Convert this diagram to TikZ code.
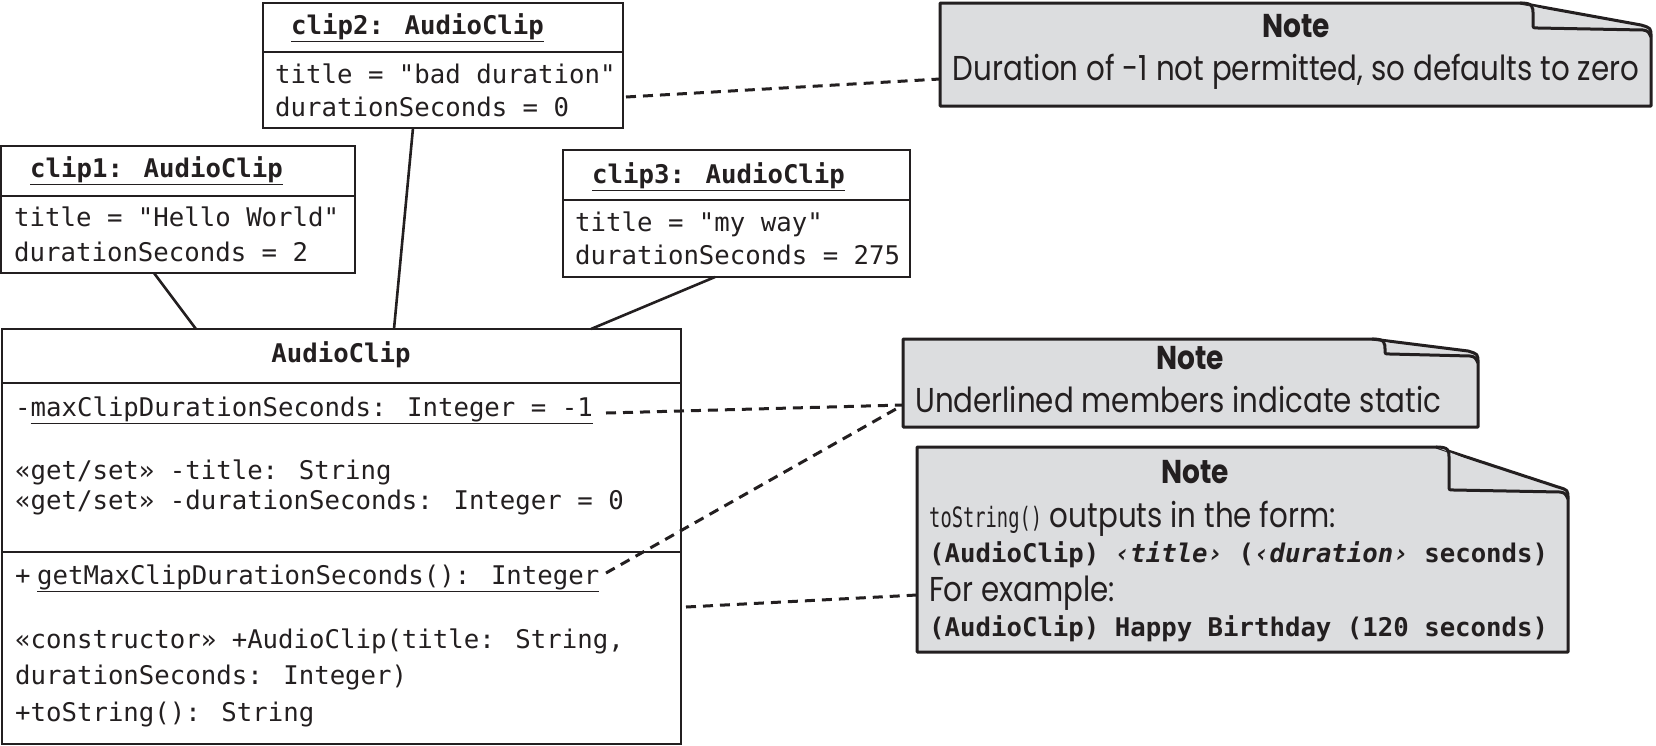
\documentclass[tikz,border=0pt]{standalone}
\usepackage{fontspec}
\setmainfont{Poppins}
\newfontfamily\monof{DejaVu Sans Mono}
\newfontfamily\monon[FakeStretch=0.67]{DejaVu Sans Mono}
\newfontfamily\notef[FakeStretch=0.85]{Poppins}
\definecolor{ink}{RGB}{35,31,32}
\definecolor{notegray}{RGB}{220,221,223}
\newcommand\notepath[6]{%
  \filldraw[notebody] (#1,#2) -- (#5,#2) -- ({#3-10},{#6-4}) .. controls (#3,{#6-1}) .. (#3,{#6+8}) -- (#3,#4) -- (#1,#4) -- cycle;
  \filldraw[notebody] (#5,#2) .. controls ({#5+13},#2) and ({#5+13},{#2+3}) .. ({#5+13},{#2+12}) -- ({#5+13},{#6-5}) .. controls ({#5+13},{#6-1}) .. ({#5+18},{#6-1}) -- ({#3-8},{#6+1}) .. controls ({#3-3},{#6+2}) .. (#3,{#6+8});
}
\begin{document}
\begin{tikzpicture}[x=1pt,y=-1pt,
  umlbox/.style={draw=ink, line width=2.6pt, inner sep=0pt, outer sep=0pt, anchor=north west},
  divider/.style={draw=ink, line width=2.6pt},
  link/.style={draw=ink, line width=2.6pt},
  notelink/.style={draw=ink, line width=3pt, dash pattern=on 10pt off 7pt},
  notebody/.style={draw=ink, fill=notegray, line width=3pt, line join=round},
  notearea/.style={inner sep=0pt, outer sep=0pt, anchor=north west},
  mono/.style={font=\monof\fontsize{25.7}{32}\selectfont, text=ink, inner sep=0pt, anchor=west, text height=19pt, text depth=6pt},
  monob/.style={mono, font=\monof\bfseries\fontsize{25.7}{32}\selectfont},
  notehead/.style={font=\notef\bfseries\fontsize{33}{40}\selectfont, text=ink, inner sep=0pt, text height=24pt, text depth=7pt},
  notetext/.style={font=\notef\fontsize{34.5}{41}\selectfont, text=ink, inner sep=0pt, anchor=west, text height=24pt, text depth=7pt},
]
\useasboundingbox (0,0) rectangle (1656,745);

% ---------- object boxes ----------
\node[umlbox, minimum width=354pt, minimum height=127pt] (clip1) at (1,146) {};
\draw[divider] (1,196) -- (355,196);
\node[umlbox, minimum width=360pt, minimum height=125pt] (clip2) at (263,3) {};
\draw[divider] (263,52) -- (623,52);
\node[umlbox, minimum width=347pt, minimum height=127pt] (clip3) at (563,150) {};
\draw[divider] (563,200) -- (910,200);
\node[umlbox, minimum width=679pt, minimum height=415pt] (cls) at (2,329) {};
\draw[divider] (2,383) -- (681,383);
\draw[divider] (2,552) -- (681,552);

% ---------- object texts ----------
\node[monob] (c1h) at (30,171) {\underline{clip1: AudioClip}};
\node[mono] (c1a) at (14,220) {title = "Hello World"};
\node[mono] (c1b) at (14,255) {durationSeconds = 2};
\node[monob] (c2h) at (291,28) {\underline{clip2: AudioClip}};
\node[mono] (c2a) at (275,77) {title = "bad duration"};
\node[mono] (c2b) at (275,110) {durationSeconds = 0};
\node[monob] (c3h) at (592,177) {\underline{clip3: AudioClip}};
\node[mono] (c3a) at (575,225) {title = "my way"};
\node[mono] (c3b) at (575,258) {durationSeconds = 275};

% ---------- class texts ----------
\node[monob, anchor=center] (clsh) at (341,356) {AudioClip};
\node[mono] (a1) at (15,410) {-\underline{maxClipDurationSeconds: Integer = -1}};
\node[mono] (a2) at (15,473) {«get/set» -title: String};
\node[mono] (a3) at (15,503) {«get/set» -durationSeconds: Integer = 0};
\node[mono] (m1) at (15,578) {\makebox[22pt][l]{+}\underline{getMaxClipDurationSeconds(): Integer}};
\node[mono] (m2) at (15,642) {«constructor» +AudioClip(title: String,};
\node[mono] (m3) at (15,678) {durationSeconds: Integer)};
\node[mono] (m4) at (15,715) {+toString(): String};

% ---------- notes ----------
\notepath{940}{3}{1651}{106}{1520}{29}
\node[notearea, minimum width=711pt, minimum height=103pt] (note1) at (940,3) {};
\node[notehead] (n1h) at (1296,29) {Note};
\node[notetext, anchor=center] (n1t) at (1296,72) {Duration of -1 not permitted, so defaults to zero};

\notepath{903}{339}{1478}{427}{1372}{355}
\node[notearea, minimum width=575pt, minimum height=88pt] (note2) at (903,339) {};
\node[notehead] (n2h) at (1190,361) {Note};
\node[notetext] (n2t) at (915,404) {Underlined members indicate static};

\notepath{917}{447}{1568}{652}{1436}{491}
\node[notearea, minimum width=651pt, minimum height=205pt] (note3) at (917,447) {};
\node[notehead] (n3h) at (1195,475) {Note};
\node[notetext] (n3a) at (929,519) {{\monon\fontsize{28}{34}\selectfont toString()} outputs in the form:};
\node[monob] (n3b) at (929,556) {(AudioClip) \textit{‹title›} (\textit{‹duration›} seconds)};
\node[notetext] (n3c) at (929,593) {For example:};
\node[monob] (n3d) at (929,630) {(AudioClip) Happy Birthday (120 seconds)};

% ---------- attachment points ----------
\coordinate (l1a) at (154,273);
\coordinate (l1b) at (196,329);
\coordinate (l2a) at (413,128);
\coordinate (l2b) at (394,329);
\coordinate (l3a) at (715,277);
\coordinate (l3b) at (591,329);
\coordinate (d1a) at (626,97);
\coordinate (d1b) at (940,79);
\coordinate (d2a) at (606,413);
\coordinate (d3a) at (606,573);
\coordinate (d2b) at (903,405);
\coordinate (d4a) at (686,607);
\coordinate (d4b) at (917,595);

% ---------- connectors ----------
\draw[link] (l1a) -- (l1b);
\draw[link] (l2a) -- (l2b);
\draw[link] (l3a) -- (l3b);
\draw[notelink] (d1a) -- (d1b);
\draw[notelink] (d2a) -- (d2b);
\draw[notelink] (d3a) -- (d2b);
\draw[notelink] (d4a) -- (d4b);
\end{tikzpicture}
\end{document}
